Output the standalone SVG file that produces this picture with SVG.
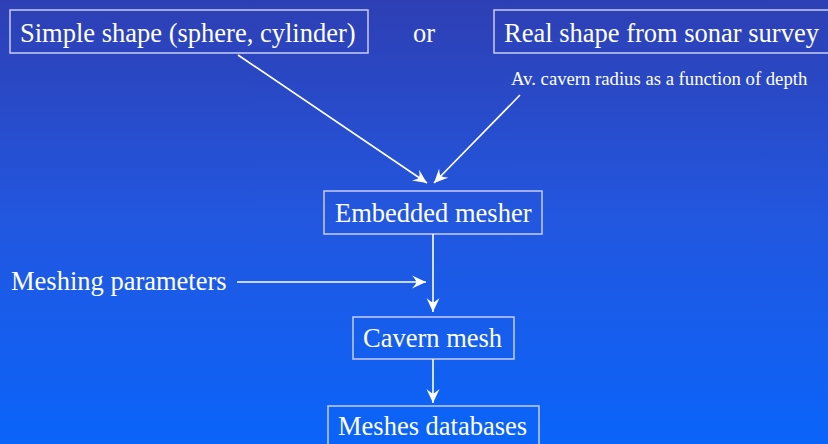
<svg xmlns="http://www.w3.org/2000/svg" width="828" height="444" viewBox="0 0 828 444">
<defs>
<linearGradient id="bg" x1="0" y1="0" x2="0" y2="1">
<stop offset="0" stop-color="#2e3fb4"/>
<stop offset="0.5" stop-color="#2257e0"/>
<stop offset="1" stop-color="#0a64fa"/>
</linearGradient>
<marker id="ah" viewBox="-14 -7 15 14" refX="0" refY="0" markerWidth="15" markerHeight="14" markerUnits="userSpaceOnUse" orient="auto">
<path d="M0,0 L-14,-6.5 Q-9,-1 -10,0 Q-9,1 -14,6.5 Z" fill="#ffffff"/>
</marker>
<style>
.box{fill:none;stroke:#c8ccf2;stroke-width:1.5}
.t{font-family:"Liberation Serif","Times New Roman",serif;fill:#ffffff;font-size:26.5px}
.s{font-family:"Liberation Serif","Times New Roman",serif;fill:#ffffff;font-size:18.7px}
.c{stroke:#ffffff;stroke-width:1.6;fill:none;marker-end:url(#ah)}
</style>
</defs>
<rect width="828" height="444" fill="url(#bg)"/>
<g id="simple">
<rect class="box" x="10" y="10" width="358" height="43"/>
<text class="t" x="20" y="42">Simple shape (sphere, cylinder)</text>
</g>
<g id="or">
<text class="t" x="413" y="42">or</text>
</g>
<g id="real">
<rect class="box" x="494" y="10" width="340" height="43"/>
<text class="t" x="504" y="42">Real shape from sonar survey</text>
</g>
<g id="avlabel">
<text class="s" x="511" y="85">Av. cavern radius as a function of depth</text>
</g>
<g id="mesher">
<rect class="box" x="324" y="191" width="218" height="43"/>
<text class="t" x="335" y="222">Embedded mesher</text>
</g>
<g id="params">
<text class="t" x="11" y="290">Meshing parameters</text>
</g>
<g id="cavern">
<rect class="box" x="353" y="317" width="161" height="42"/>
<text class="t" x="363" y="347">Cavern mesh</text>
</g>
<g id="db">
<rect class="box" x="328" y="406" width="211" height="50"/>
<text class="t" x="338" y="435">Meshes databases</text>
</g>
<g id="connectors">
<line class="c" x1="238" y1="55" x2="427" y2="183"/>
<line class="c" x1="520" y1="95" x2="434" y2="183"/>
<line class="c" x1="237" y1="282" x2="426" y2="282"/>
<line class="c" x1="433" y1="234" x2="433" y2="312"/>
<line class="c" x1="433" y1="359" x2="433" y2="403"/>
</g>
</svg>
